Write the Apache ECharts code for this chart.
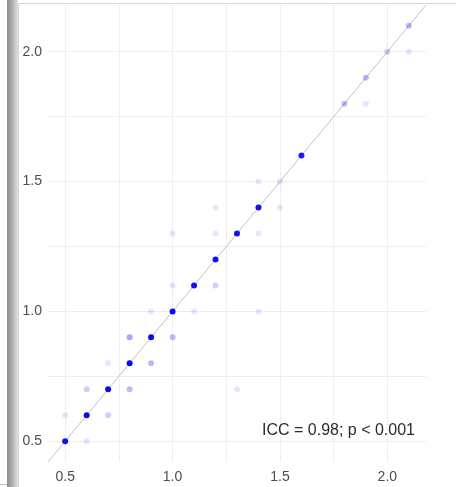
<!DOCTYPE html>
<html>
<head>
<meta charset="utf-8">
<script src="https://cdn.jsdelivr.net/npm/echarts@6/dist/echarts.min.js"></script>
<style>
  html, body { margin: 0; padding: 0; background: #fff; }
  #chart { width: 456px; height: 487px; }
</style>
</head>
<body>
<div id="chart"></div>
<script>
// measurement pairs (rater A on x, rater B on y) and how many subjects share each pair
const xVals = [0.5, 0.6, 0.7, 0.8, 0.9, 1.0, 1.1, 1.2, 1.3, 1.4, 1.6, 1.5, 1.8, 1.9, 2.0, 2.1,
               0.5, 0.6, 0.6, 0.7, 0.7, 0.8, 0.8, 0.9, 1.0, 0.9, 1.1, 1.3, 1.4, 1.0, 1.2, 1.0, 1.2, 1.4, 1.2, 1.5, 1.4, 1.9, 2.1];
const yVals = [0.5, 0.6, 0.7, 0.8, 0.9, 1.0, 1.1, 1.2, 1.3, 1.4, 1.6, 1.5, 1.8, 1.9, 2.0, 2.1,
               0.6, 0.5, 0.7, 0.6, 0.8, 0.7, 0.9, 0.8, 0.9, 1.0, 1.0, 0.7, 1.0, 1.1, 1.1, 1.3, 1.3, 1.3, 1.4, 1.4, 1.5, 1.8, 2.0];
const counts = [25, 30, 30, 30, 30, 30, 25, 25, 25, 25, 20, 1, 3, 3, 2, 3,
                1, 1, 2, 2, 1, 3, 4, 3, 3, 1, 1, 1, 1, 1, 2, 1, 1, 1, 1, 1, 1, 1, 1];
const majorTicks = [0.5, 1.0, 1.5, 2.0];
const minorTicks = [0.75, 1.25, 1.75];
const axisRange = [0.42, 2.18];
const annotation = "ICC = 0.98; p < 0.001";

const pointAlpha = 0.1;
const points = xVals.map((x, i) => ({
  value: [x, yVals[i]],
  itemStyle: { opacity: 1 - Math.pow(1 - pointAlpha, counts[i]) }
}));

const labelFont = { color: "#4d4d4d", fontSize: 14, fontFamily: "Liberation Sans, Arial, sans-serif" };
const gridColor = "#eeeef2";

// grid lines + tick labels built from the tick arrays (ggplot-like, no axis lines)
const gridMarks = [];
majorTicks.forEach(t => {
  gridMarks.push({ xAxis: t, label: Object.assign({ show: true, position: "start", distance: 8, formatter: t.toFixed(1) }, labelFont) });
  gridMarks.push({ yAxis: t, label: Object.assign({ show: true, position: "start", distance: 6, formatter: t.toFixed(1) }, labelFont) });
});
minorTicks.forEach(t => {
  gridMarks.push({ xAxis: t, label: { show: false } });
  gridMarks.push({ yAxis: t, label: { show: false } });
});

function makeAxis() {
  return {
    type: "value",
    min: axisRange[0],
    max: axisRange[1],
    axisLine: { show: false },
    axisTick: { show: false },
    axisLabel: { show: false },
    splitLine: { show: false }
  };
}

const chart = echarts.init(document.getElementById("chart"));
chart.setOption({
  animation: false,
  grid: { left: 48, right: 30, top: 5, bottom: 25 },
  xAxis: makeAxis(),
  yAxis: makeAxis(),
  graphic: [
    // browser-frame decoration on the left
    {
      type: "rect",
      shape: { x: 7, y: 0, width: 11, height: 487 },
      style: {
        fill: new echarts.graphic.LinearGradient(0, 0, 1, 0, [
          { offset: 0, color: "#8c8c8c" },
          { offset: 0.4, color: "#a8a8a8" },
          { offset: 1, color: "#e2e2e2" }
        ])
      },
      silent: true
    },
    { type: "line", shape: { x1: 18.5, y1: 3.5, x2: 456, y2: 3.5 }, style: { stroke: "#d6d6d6", lineWidth: 1 }, silent: true },
    { type: "line", shape: { x1: 18.5, y1: 3.5, x2: 18.5, y2: 487 }, style: { stroke: "#d6d6d6", lineWidth: 1 }, silent: true },
    { type: "line", shape: { x1: 0, y1: 484.5, x2: 7, y2: 484.5 }, style: { stroke: "#bbbbbb", lineWidth: 1 }, silent: true },
    {
      type: "text",
      left: 262,
      top: 423,
      z: 100,
      style: {
        text: annotation,
        fill: "#2b2b2b",
        fontSize: 16,
        fontFamily: "Liberation Sans, Arial, sans-serif"
      }
    }
  ],
  series: [
    {
      type: "line",
      data: [[axisRange[0], axisRange[0]], [axisRange[1], axisRange[1]]],
      symbol: "none",
      lineStyle: { color: "#c4c0bc", width: 1 },
      silent: true,
      z: 2,
      markLine: {
        silent: true,
        symbol: "none",
        animation: false,
        lineStyle: { color: gridColor, width: 1, type: "solid" },
        emphasis: { disabled: true },
        data: gridMarks,
        z: 1
      }
    },
    {
      type: "scatter",
      data: points,
      symbolSize: 6,
      itemStyle: { color: "#0000f0" },
      z: 3
    }
  ]
});
</script>
</body>
</html>
